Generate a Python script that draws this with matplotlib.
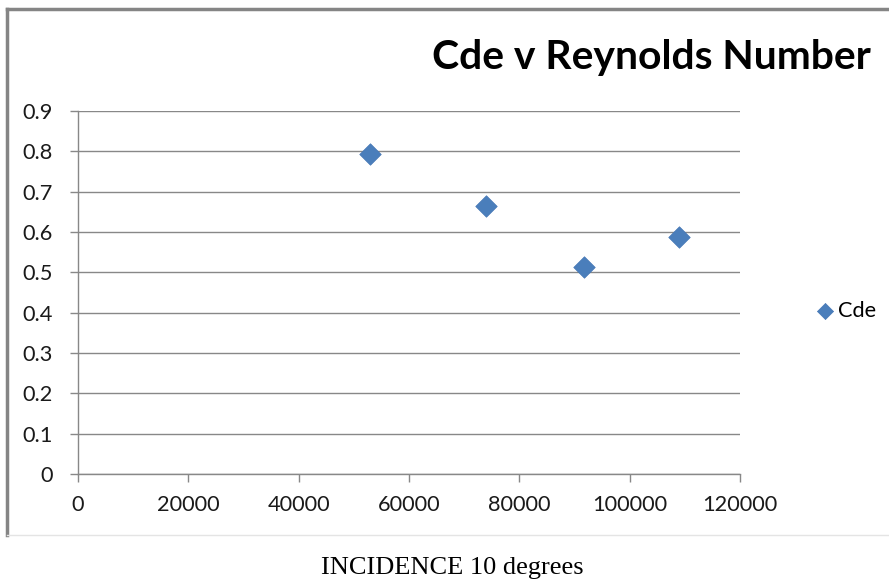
import matplotlib
matplotlib.use("Agg")
import matplotlib.pyplot as plt
from matplotlib.lines import Line2D

reynolds = [52900, 74000, 91700, 108900]
cde = [0.793, 0.664, 0.514, 0.587]
series_name = "Cde"
title = "Cde v Reynolds Number"
caption = "INCIDENCE 10 degrees"
xticks = [0, 20000, 40000, 60000, 80000, 100000, 120000]
yticks = [0, 0.1, 0.2, 0.3, 0.4, 0.5, 0.6, 0.7, 0.8, 0.9]

W, H = 889, 586
fig = plt.figure(figsize=(W / 100, H / 100), dpi=100)
fig.patch.set_facecolor("white")

def fx(px):
    return px / W

def fy(py):
    return 1 - py / H

# chart frame (Excel-like border)
fig.add_artist(Line2D([fx(7), fx(889)], [fy(9), fy(9)], color="#858585", lw=2.5, transform=fig.transFigure))
fig.add_artist(Line2D([fx(7), fx(7)], [fy(9), fy(535)], color="#858585", lw=2.5, transform=fig.transFigure))
fig.add_artist(Line2D([fx(7), fx(889)], [fy(535), fy(535)], color="#e4e4e4", lw=1, transform=fig.transFigure))

ax = fig.add_axes([fx(78), fy(474), fx(740) - fx(78), fy(111) - fy(474)])
ax.scatter(reynolds, cde, marker="D", s=120, color="#4a7ebb", edgecolor="#4677b5", linewidth=0.5, zorder=3, label=series_name)

ax.set_xlim(0, 120000)
ax.set_ylim(0, 0.9)
ax.set_xticks(xticks)
ax.set_yticks(yticks)
ax.set_xticklabels([str(v) for v in xticks])
ax.set_yticklabels(["0"] + ["%.1f" % v for v in yticks[1:]])

ax.grid(axis="y", color="#888888", lw=1)
ax.set_axisbelow(True)
for s in ["top", "right"]:
    ax.spines[s].set_visible(False)
for s in ["left", "bottom"]:
    ax.spines[s].set_color("#888888")
    ax.spines[s].set_linewidth(1)
ax.tick_params(axis="both", colors="#888888", length=6, width=1, direction="out",
               labelcolor="#1a1a1a", labelsize=15.7)
ax.tick_params(axis="x", pad=9)
ax.tick_params(axis="y", pad=12)
for lab in ax.get_xticklabels() + ax.get_yticklabels():
    lab.set_family("Lato")

fig.text(fx(871), fy(58), title, ha="right", va="center", fontsize=29.4, fontweight="bold",
         family="Lato", color="black")

leg = ax.legend(loc="center left", bbox_to_anchor=(fx(814), fy(311)), bbox_transform=fig.transFigure,
                frameon=False, prop={"family": "Lato", "size": 15.7}, handletextpad=0.1,
                handlelength=1.0, markerscale=0.75, borderaxespad=0, borderpad=0)

fig.text(fx(452), fy(568), caption, ha="center", va="center", fontsize=19,
         family="Liberation Serif", color="black")

fig.savefig("out.png", dpi=100, facecolor="white")
